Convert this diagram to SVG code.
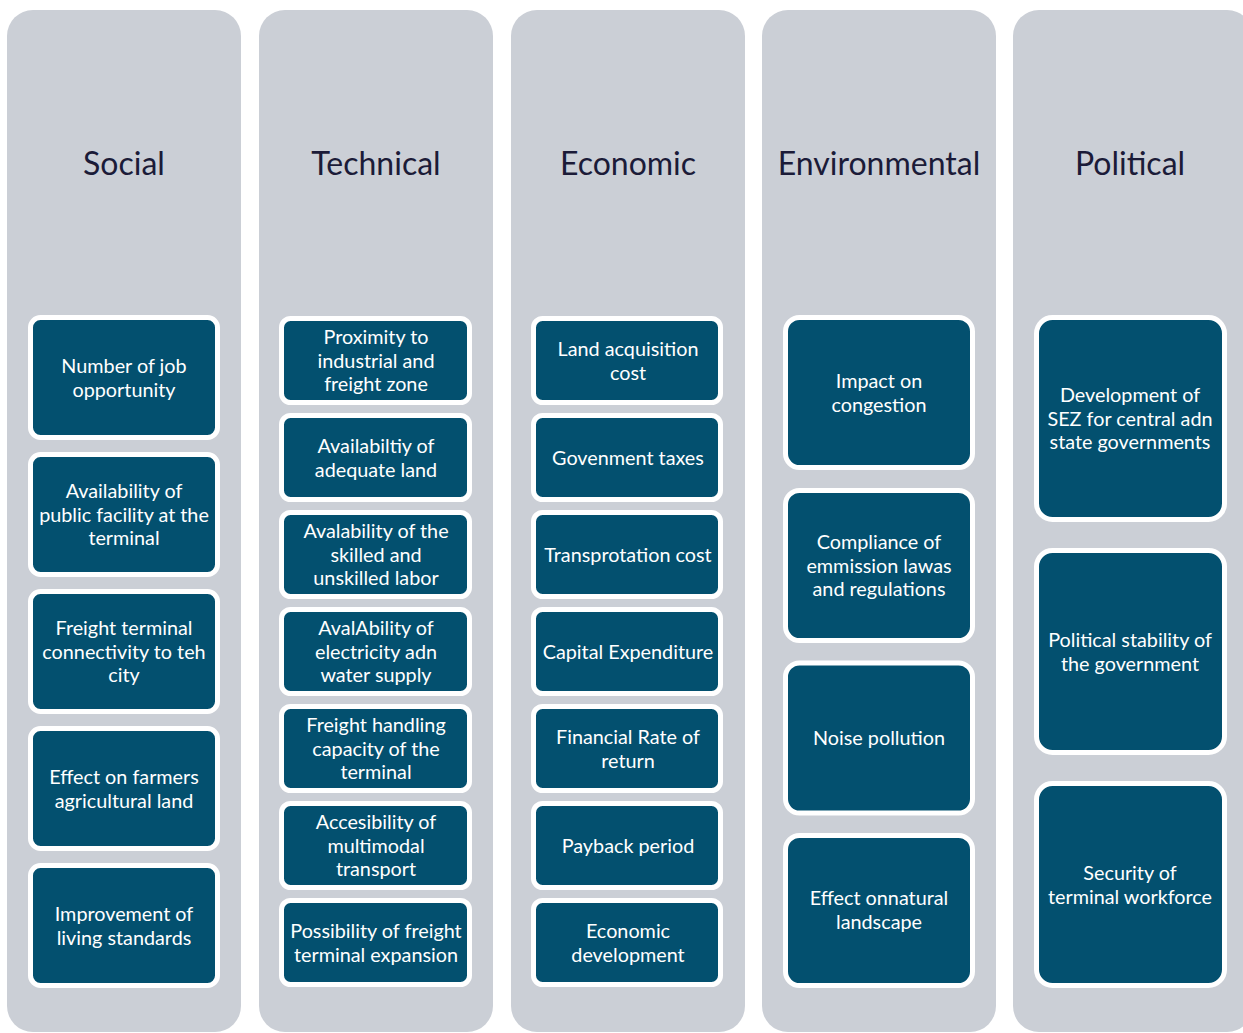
<svg xmlns="http://www.w3.org/2000/svg" width="1243" height="1033" viewBox="0 0 1243 1033">
<style>
.col{fill:#CBCFD6}
.hd{font-family:Lato,"Open Sans",sans-serif;font-size:32px;fill:#1B1B38;text-anchor:middle;dominant-baseline:central}
.bx{fill:#03506F;stroke:#FFFFFF;stroke-width:5}
.t{font-family:Lato,"Open Sans",sans-serif;font-size:19.8px;fill:#FFFFFF;text-anchor:middle;dominant-baseline:central}
</style>
<rect width="1243" height="1033" fill="#FFFFFF"/>
<g id="col-social"><rect class="col" x="7" y="10" width="234" height="1022" rx="26"/><text class="hd" x="124" y="162">Social</text></g>
<g id="col-technical"><rect class="col" x="259" y="10" width="234" height="1022" rx="26"/><text class="hd" x="376" y="162">Technical</text></g>
<g id="col-economic"><rect class="col" x="511" y="10" width="234" height="1022" rx="26"/><text class="hd" x="628" y="162">Economic</text></g>
<g id="col-environmental"><rect class="col" x="762" y="10" width="234" height="1022" rx="26"/><text class="hd" x="879" y="162">Environmental</text></g>
<g id="col-political"><rect class="col" x="1013" y="10" width="240" height="1022" rx="26"/><text class="hd" x="1130" y="162">Political</text></g>

<g id="social-1"><rect class="bx" x="30.5" y="317.5" width="187" height="120" rx="10"/><text class="t" x="124" y="365">Number of job</text><text class="t" x="124" y="388.5">opportunity</text></g>
<g id="social-2"><rect class="bx" x="30.5" y="454.5" width="187" height="120" rx="10"/><text class="t" x="124" y="490">Availability of</text><text class="t" x="124" y="513.5">public facility at the</text><text class="t" x="124" y="537">terminal</text></g>
<g id="social-3"><rect class="bx" x="30.5" y="591.5" width="187" height="120" rx="10"/><text class="t" x="124" y="627">Freight terminal</text><text class="t" x="124" y="650.5">connectivity to teh</text><text class="t" x="124" y="674">city</text></g>
<g id="social-4"><rect class="bx" x="30.5" y="728.5" width="187" height="120" rx="10"/><text class="t" x="124" y="776">Effect on farmers</text><text class="t" x="124" y="799.5">agricultural land</text></g>
<g id="social-5"><rect class="bx" x="30.5" y="865.5" width="187" height="120" rx="10"/><text class="t" x="124" y="913">Improvement of</text><text class="t" x="124" y="936.5">living standards</text></g>

<g id="tech-1"><rect class="bx" x="281.5" y="318.5" width="188" height="84" rx="9"/><text class="t" x="376" y="336">Proximity to</text><text class="t" x="376" y="359.5">industrial and</text><text class="t" x="376" y="383">freight zone</text></g>
<g id="tech-2"><rect class="bx" x="281.5" y="415.5" width="188" height="84" rx="9"/><text class="t" x="376" y="445">Availabiltiy of</text><text class="t" x="376" y="468.5">adequate land</text></g>
<g id="tech-3"><rect class="bx" x="281.5" y="512.5" width="188" height="84" rx="9"/><text class="t" x="376" y="530">Avalability of the</text><text class="t" x="376" y="553.5">skilled and</text><text class="t" x="376" y="577">unskilled labor</text></g>
<g id="tech-4"><rect class="bx" x="281.5" y="609.5" width="188" height="84" rx="9"/><text class="t" x="376" y="627">AvalAbility of</text><text class="t" x="376" y="650.5">electricity adn</text><text class="t" x="376" y="674">water supply</text></g>
<g id="tech-5"><rect class="bx" x="281.5" y="706.5" width="188" height="84" rx="9"/><text class="t" x="376" y="724">Freight handling</text><text class="t" x="376" y="747.5">capacity of the</text><text class="t" x="376" y="771">terminal</text></g>
<g id="tech-6"><rect class="bx" x="281.5" y="803.5" width="188" height="84" rx="9"/><text class="t" x="376" y="821">Accesibility of</text><text class="t" x="376" y="844.5">multimodal</text><text class="t" x="376" y="868">transport</text></g>
<g id="tech-7"><rect class="bx" x="281.5" y="900.5" width="188" height="84" rx="9"/><text class="t" x="376" y="930">Possibility of freight</text><text class="t" x="376" y="953.5">terminal expansion</text></g>

<g id="eco-1"><rect class="bx" x="533.5" y="318.5" width="187" height="84" rx="9"/><text class="t" x="628" y="348">Land acquisition</text><text class="t" x="628" y="371.5">cost</text></g>
<g id="eco-2"><rect class="bx" x="533.5" y="415.5" width="187" height="84" rx="9"/><text class="t" x="628" y="457">Govenment taxes</text></g>
<g id="eco-3"><rect class="bx" x="533.5" y="512.5" width="187" height="84" rx="9"/><text class="t" x="628" y="554">Transprotation cost</text></g>
<g id="eco-4"><rect class="bx" x="533.5" y="609.5" width="187" height="84" rx="9"/><text class="t" x="628" y="651">Capital Expenditure</text></g>
<g id="eco-5"><rect class="bx" x="533.5" y="706.5" width="187" height="84" rx="9"/><text class="t" x="628" y="736">Financial Rate of</text><text class="t" x="628" y="759.5">return</text></g>
<g id="eco-6"><rect class="bx" x="533.5" y="803.5" width="187" height="84" rx="9"/><text class="t" x="628" y="845">Payback period</text></g>
<g id="eco-7"><rect class="bx" x="533.5" y="900.5" width="187" height="84" rx="9"/><text class="t" x="628" y="930">Economic</text><text class="t" x="628" y="953.5">development</text></g>

<g id="env-1"><rect class="bx" x="785.5" y="317.5" width="187" height="150" rx="14"/><text class="t" x="879" y="380">Impact on</text><text class="t" x="879" y="403.5">congestion</text></g>
<g id="env-2"><rect class="bx" x="785.5" y="490.5" width="187" height="150" rx="14"/><text class="t" x="879" y="541">Compliance of</text><text class="t" x="879" y="564.5">emmission lawas</text><text class="t" x="879" y="588">and regulations</text></g>
<g id="env-3"><rect class="bx" x="785.5" y="663" width="187" height="150" rx="14"/><text class="t" x="879" y="737">Noise pollution</text></g>
<g id="env-4"><rect class="bx" x="785.5" y="835.5" width="187" height="150" rx="14"/><text class="t" x="879" y="897">Effect onnatural</text><text class="t" x="879" y="920.5">landscape</text></g>

<g id="pol-1"><rect class="bx" x="1036.5" y="317.5" width="188" height="202" rx="16"/><text class="t" x="1130" y="394">Development of</text><text class="t" x="1130" y="417.5">SEZ for central adn</text><text class="t" x="1130" y="441">state governments</text></g>
<g id="pol-2"><rect class="bx" x="1036.5" y="550.5" width="188" height="202" rx="16"/><text class="t" x="1130" y="639">Political stability of</text><text class="t" x="1130" y="662.5">the government</text></g>
<g id="pol-3"><rect class="bx" x="1036.5" y="783.5" width="188" height="202" rx="16"/><text class="t" x="1130" y="872">Security of</text><text class="t" x="1130" y="895.5">terminal workforce</text></g>

<g id="connectors"></g>
</svg>
